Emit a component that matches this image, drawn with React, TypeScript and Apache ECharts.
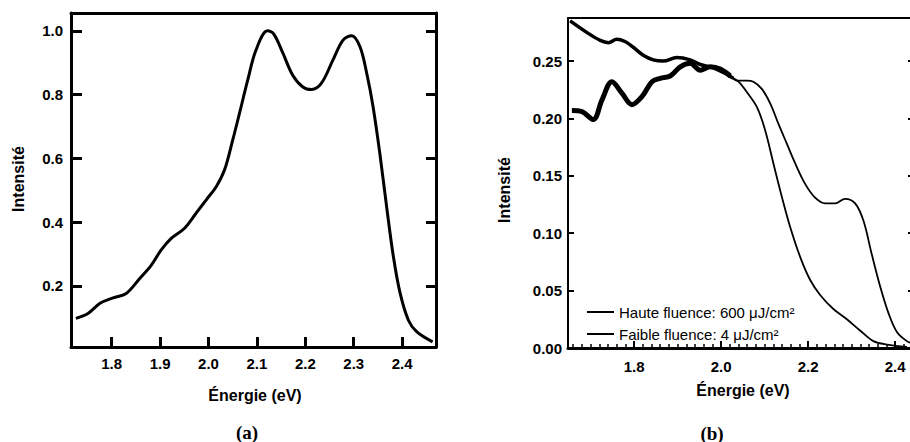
import React, { useEffect, useRef } from "react";
import * as echarts from "echarts";

// ---- Panel (a) ----
const energyA = [1.726, 1.751, 1.776, 1.803, 1.830, 1.858, 1.882, 1.902, 1.923, 1.950, 1.974, 1.995, 2.016, 2.033, 2.050, 2.064, 2.081, 2.098, 2.122, 2.135, 2.154, 2.174, 2.195, 2.213, 2.233, 2.257, 2.278, 2.296, 2.313, 2.327, 2.340, 2.354, 2.368, 2.382, 2.396, 2.413, 2.430, 2.463];
const intensityA = [0.098, 0.113, 0.145, 0.162, 0.176, 0.223, 0.265, 0.312, 0.349, 0.380, 0.427, 0.469, 0.511, 0.563, 0.657, 0.741, 0.845, 0.939, 1.0, 0.99, 0.929, 0.861, 0.824, 0.816, 0.835, 0.908, 0.971, 0.985, 0.950, 0.866, 0.762, 0.615, 0.448, 0.291, 0.176, 0.092, 0.056, 0.024];
const ticksAx = [1.8, 1.9, 2.0, 2.1, 2.2, 2.3, 2.4];
const ticksAy = [0.2, 0.4, 0.6, 0.8, 1.0];

// ---- Panel (b) ----
const seriesNames = ["Haute fluence: 600 \u03bcJ/cm\u00b2", "Faible fluence: 4 \u03bcJ/cm\u00b2"];
const energyHaute = [1.653, 1.691, 1.722, 1.741, 1.760, 1.779, 1.798, 1.821, 1.844, 1.867, 1.898, 1.929, 1.952, 1.982, 2.005, 2.028, 2.040, 2.059, 2.082, 2.101, 2.120, 2.140, 2.159, 2.182, 2.205, 2.228, 2.258, 2.289, 2.320, 2.350, 2.381, 2.427];
const intensityHaute = [0.285, 0.275, 0.268, 0.266, 0.269, 0.267, 0.262, 0.255, 0.251, 0.250, 0.253, 0.251, 0.247, 0.244, 0.240, 0.235, 0.232, 0.223, 0.210, 0.190, 0.161, 0.131, 0.105, 0.079, 0.059, 0.046, 0.034, 0.025, 0.015, 0.006, 0.003, 0.001];
const energyFaible = [1.657, 1.680, 1.706, 1.726, 1.749, 1.772, 1.795, 1.818, 1.841, 1.860, 1.883, 1.906, 1.929, 1.952, 1.975, 1.998, 2.021, 2.036, 2.059, 2.074, 2.093, 2.113, 2.132, 2.151, 2.170, 2.193, 2.216, 2.239, 2.262, 2.285, 2.308, 2.327, 2.346, 2.366, 2.385, 2.404, 2.427, 2.441];
const intensityFaible = [0.207, 0.206, 0.199, 0.216, 0.232, 0.222, 0.212, 0.219, 0.232, 0.235, 0.237, 0.245, 0.248, 0.242, 0.245, 0.243, 0.237, 0.233, 0.233, 0.232, 0.226, 0.213, 0.195, 0.178, 0.161, 0.143, 0.131, 0.126, 0.126, 0.130, 0.126, 0.111, 0.082, 0.053, 0.030, 0.014, 0.006, 0.004];
const ticksBx = [1.8, 2.0, 2.2, 2.4];
const minorTicksBx = [1.66, 1.68, 1.7, 1.72, 1.74, 1.76, 1.78, 1.82, 1.84, 1.86, 1.88, 1.9, 1.92, 1.94, 1.96, 1.98, 2.02, 2.04, 2.06, 2.08, 2.1, 2.12, 2.14, 2.16, 2.18, 2.22, 2.24, 2.26, 2.28, 2.3, 2.32, 2.34, 2.36, 2.38, 2.42, 2.44];
const ticksBy = [0, 0.05, 0.1, 0.15, 0.2, 0.25];
const noisyLimit = 2.03;

const FONT = "'Liberation Sans', Arial, Helvetica, sans-serif";

export default function App() {
  const ref = useRef<HTMLDivElement>(null);
  useEffect(() => {
    if (!ref.current) return;
    const chart = echarts.init(ref.current, null, { renderer: "svg" });
    const zip = (xs: number[], ys: number[]) => xs.map((x, i) => [x, ys[i]]);
    const noisy = (xs: number[], ys: number[]) => zip(xs, ys).filter((p) => p[0] <= noisyLimit);
    const black = "#000";
    const tickLabel = { fontFamily: FONT, fontWeight: "bold" as const, fontSize: 15, color: black };
    const nameText = (text: string, x: number, y: number, rot = 0) => ({
      type: "text",
      x,
      y,
      rotation: rot,
      style: { text, font: `bold 16px ${FONT}`, fill: black, align: "center", verticalAlign: "middle" },
    });
    const option: any = {
      animation: false,
      backgroundColor: "#fff",
      grid: [
        { left: 71, top: 13, width: 365, height: 334, outerBoundsMode: "none" },
        { left: 568, top: 18, width: 345, height: 330, outerBoundsMode: "none" },
      ],
      xAxis: [
        {
          type: "value", gridIndex: 0, position: "bottom", min: 1.716, max: 2.47,
          axisLine: { lineStyle: { color: black, width: 3 } },
          axisTick: { inside: true, length: 10, lineStyle: { color: black, width: 3 }, customValues: ticksAx },
          axisLabel: { ...tickLabel, margin: 9, customValues: ticksAx, formatter: (v: number) => v.toFixed(1) },
          splitLine: { show: false },
        },
        {
          type: "value", gridIndex: 0, position: "top", min: 1.716, max: 2.47,
          axisLine: { lineStyle: { color: black, width: 3 } },
          axisTick: { show: false }, axisLabel: { show: false }, splitLine: { show: false },
        },
        {
          type: "value", gridIndex: 1, position: "bottom", min: 1.648, max: 2.441,
          axisLine: { lineStyle: { color: black, width: 3 } },
          axisTick: { inside: true, length: 7, lineStyle: { color: black, width: 2 }, customValues: ticksBx },
          axisLabel: { ...tickLabel, margin: 11, customValues: ticksBx, formatter: (v: number) => v.toFixed(1) },
          splitLine: { show: false },
        },
        {
          type: "value", gridIndex: 1, position: "bottom", min: 1.648, max: 2.441,
          axisLine: { show: false },
          axisTick: { inside: true, length: 4, lineStyle: { color: black, width: 1.5 }, customValues: minorTicksBx },
          axisLabel: { show: false }, splitLine: { show: false },
        },
        {
          type: "value", gridIndex: 1, position: "top", min: 1.648, max: 2.441,
          axisLine: { lineStyle: { color: black, width: 2 } },
          axisTick: { show: false }, axisLabel: { show: false }, splitLine: { show: false },
        },
      ],
      yAxis: [
        {
          type: "value", gridIndex: 0, position: "left", min: 0.008, max: 1.056,
          axisLine: { show: true, lineStyle: { color: black, width: 3 } },
          axisTick: { show: true, inside: true, length: 11, lineStyle: { color: black, width: 3 }, customValues: ticksAy },
          axisLabel: { ...tickLabel, margin: 8, customValues: ticksAy, formatter: (v: number) => v.toFixed(1) },
          splitLine: { show: false },
        },
        {
          type: "value", gridIndex: 0, position: "right", min: 0.008, max: 1.056,
          axisLine: { show: true, lineStyle: { color: black, width: 3 } },
          axisTick: { show: true, inside: true, length: 10, lineStyle: { color: black, width: 3 }, customValues: ticksAy },
          axisLabel: { show: false }, splitLine: { show: false },
        },
        {
          type: "value", gridIndex: 1, position: "left", min: 0, max: 0.2875,
          axisLine: { show: true, lineStyle: { color: black, width: 2 } },
          axisTick: { show: true, inside: true, length: 6, lineStyle: { color: black, width: 2 }, customValues: ticksBy },
          axisLabel: { ...tickLabel, margin: 6, customValues: ticksBy, formatter: (v: number) => v.toFixed(2) },
          splitLine: { show: false },
        },
        {
          type: "value", gridIndex: 1, position: "right", min: 0, max: 0.2875,
          axisLine: { show: true, lineStyle: { color: black, width: 2 } },
          axisTick: { show: true, inside: true, length: 5, lineStyle: { color: black, width: 2 }, customValues: ticksBy },
          axisLabel: { show: false }, splitLine: { show: false },
        },
      ],
      legend: {
        data: seriesNames,
        orient: "vertical",
        left: 582,
        top: 298,
        itemWidth: 27,
        itemHeight: 2,
        itemGap: 4,
        icon: "rect",
        textStyle: { fontFamily: FONT, fontSize: 15, color: black, lineHeight: 18 },
      },
      series: [
        {
          type: "line", name: "Spectre", xAxisIndex: 0, yAxisIndex: 0, data: zip(energyA, intensityA),
          showSymbol: false, symbol: "none", smooth: 0.35, lineStyle: { color: black, width: 3 }, color: black,
        },
        {
          type: "line", name: seriesNames[0], xAxisIndex: 2, yAxisIndex: 2, data: zip(energyHaute, intensityHaute),
          showSymbol: false, symbol: "none", smooth: 0.35, lineStyle: { color: black, width: 1.8 }, color: black,
        },
        {
          type: "line", name: seriesNames[1], xAxisIndex: 2, yAxisIndex: 2, data: zip(energyFaible, intensityFaible),
          showSymbol: false, symbol: "none", smooth: 0.35, lineStyle: { color: black, width: 1.8 }, color: black,
        },
        {
          type: "line", name: "bruitHaute", xAxisIndex: 2, yAxisIndex: 2, data: noisy(energyHaute, intensityHaute),
          showSymbol: false, symbol: "none", smooth: 0.35, lineStyle: { color: black, width: 3.5 }, color: black,
        },
        {
          type: "line", name: "bruitFaible", xAxisIndex: 2, yAxisIndex: 2, data: noisy(energyFaible, intensityFaible),
          showSymbol: false, symbol: "none", smooth: 0.35, lineStyle: { color: black, width: 5 }, color: black,
        },
      ],
      graphic: [
        nameText("Intensit\u00e9", 18, 179, Math.PI / 2),
        nameText("\u00c9nergie (eV)", 255, 395),
        nameText("Intensit\u00e9", 504, 190, Math.PI / 2),
        nameText("\u00c9nergie (eV)", 743, 390),
        {
          type: "text", x: 247, y: 432,
          style: { text: "(a)", font: "bold 19px 'Liberation Serif', 'Times New Roman', serif", fill: black, align: "center", verticalAlign: "middle" },
        },
        {
          type: "text", x: 712, y: 433,
          style: { text: "(b)", font: "bold 19px 'Liberation Serif', 'Times New Roman', serif", fill: black, align: "center", verticalAlign: "middle" },
        },
      ],
    };
    chart.setOption(option);
    return () => chart.dispose();
  }, []);
  return (
    <div
      ref={ref}
      style={{ position: "fixed", left: 0, top: 0, width: 910, height: 442, background: "#fff" }}
    />
  );
}
